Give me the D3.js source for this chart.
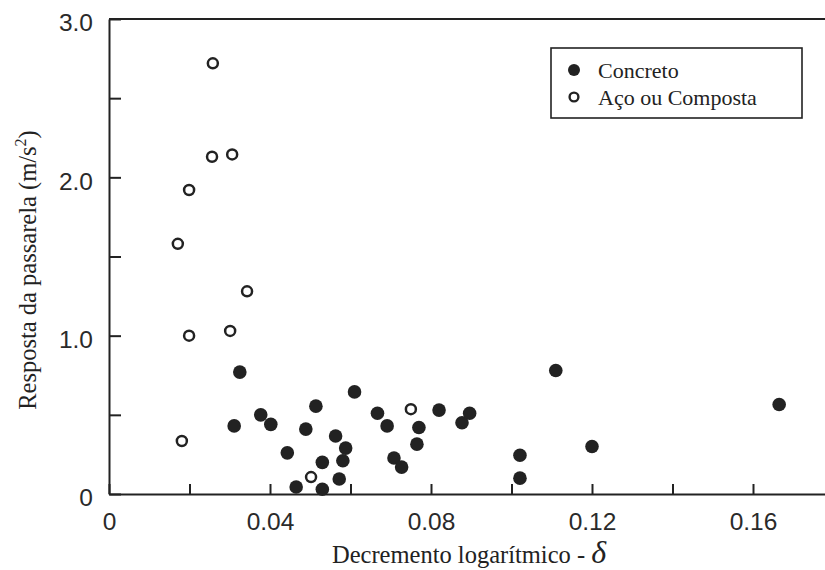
<!doctype html>
<meta charset='utf-8' />
<script src='https://cdn.jsdelivr.net/npm/d3@7'></script>
<style>
    body { margin: 0; background: #fff; }
    text { fill: #222; }
</style>
<svg></svg>
<script>
    var width = 825,
        height = 570

    var seriesNames = ['Concreto', 'Aço ou Composta']

    // Concreto (filled)
    var concretoX = [0.0325, 0.0311, 0.0377, 0.0402, 0.0443, 0.0489, 0.0514, 0.0465, 0.0530, 0.0530,
        0.0563, 0.0588, 0.0581, 0.0572, 0.0610, 0.0667, 0.0691, 0.0708, 0.0727, 0.0770,
        0.0765, 0.0820, 0.0877, 0.0896, 0.1021, 0.1021, 0.1110, 0.1200, 0.1665]
    var concretoY = [0.77, 0.43, 0.50, 0.44, 0.26, 0.41, 0.555, 0.044, 0.20, 0.03,
        0.366, 0.29, 0.21, 0.095, 0.645, 0.51, 0.43, 0.227, 0.17, 0.42,
        0.315, 0.53, 0.45, 0.51, 0.245, 0.10, 0.78, 0.30, 0.565]

    // Aço ou Composta (open)
    var acoX = [0.0258, 0.0256, 0.0306, 0.0199, 0.0171, 0.0343, 0.0199, 0.0301, 0.0181, 0.0502, 0.0750]
    var acoY = [2.72, 2.13, 2.145, 1.92, 1.58, 1.28, 1.00, 1.03, 0.335, 0.107, 0.536]

    var xTicks = [0, 0.02, 0.04, 0.06, 0.08, 0.10, 0.12, 0.14, 0.16, 0.18]
    var xLabels = { 0: '0', 0.04: '0.04', 0.08: '0.08', 0.12: '0.12', 0.16: '0.16' }
    var yTicks = [0, 0.5, 1, 1.5, 2, 2.5, 3]
    var yLabels = { 0: '0', 1: '1.0', 2: '2.0', 3: '3.0' }

    var plotLeft = 109, plotTop = 19, plotBottom = 494
    var serif = 'Liberation Serif, Times New Roman, serif'

    var svg = d3.select('svg')
        .attr('width', width)
        .attr('height', height)
        .style('font-family', 'Liberation Sans, Arial, sans-serif')

    var x = d3.scaleLinear().domain([0, 0.18]).range([plotLeft, plotLeft + 0.18 * 4025])
    var y = d3.scaleLinear().domain([0, 3]).range([plotBottom, plotTop])

    var xAxis = svg.append('g')
        .attr('transform', 'translate(0,' + plotBottom + ')')
        .call(d3.axisBottom(x)
            .tickValues(xTicks)
            .tickSizeInner(-10)
            .tickSizeOuter(0)
            .tickPadding(19)
            .tickFormat(d => xLabels[+d.toFixed(2)] || ''))

    var yAxis = svg.append('g')
        .attr('transform', 'translate(' + plotLeft + ',0)')
        .call(d3.axisLeft(y)
            .tickValues(yTicks)
            .tickSizeInner(-12)
            .tickSizeOuter(0)
            .tickPadding(16)
            .tickFormat(d => yLabels[d] || ''))

    svg.selectAll('.domain, .tick line')
        .attr('stroke', '#222')
        .attr('stroke-width', 2)
    svg.selectAll('.tick text')
        .attr('font-size', 24.5)
        .attr('font-family', 'Liberation Sans, Arial, sans-serif')
        .style('fill', '#2a2a2a')
    yAxis.selectAll('.tick text').attr('dy', '0.48em')

    // top frame line
    svg.append('line')
        .attr('x1', plotLeft).attr('x2', width)
        .attr('y1', plotTop).attr('y2', plotTop)
        .attr('stroke', '#222')
        .attr('stroke-width', 2)

    var concreto = concretoX.map((v, i) => ({ x: v, y: concretoY[i] }))
    var aco = acoX.map((v, i) => ({ x: v, y: acoY[i] }))

    svg.append('g').selectAll('circle')
        .data(concreto)
        .enter()
        .append('circle')
        .attr('cx', d => x(d.x))
        .attr('cy', d => y(d.y))
        .attr('r', 6.8)
        .style('fill', '#222')

    svg.append('g').selectAll('circle')
        .data(aco)
        .enter()
        .append('circle')
        .attr('cx', d => x(d.x))
        .attr('cy', d => y(d.y))
        .attr('r', 5)
        .style('fill', '#fff')
        .style('stroke', '#222')
        .style('stroke-width', 2.5)

    // legend
    var legend = svg.append('g')
    legend.append('rect')
        .attr('x', 551).attr('y', 48)
        .attr('width', 251).attr('height', 70)
        .style('fill', '#fff')
        .style('stroke', '#222')
        .style('stroke-width', 1.6)

    legend.selectAll('circle')
        .data(seriesNames)
        .enter()
        .append('circle')
        .attr('cx', 574)
        .attr('cy', (d, i) => 70 + i * 27)
        .attr('r', (d, i) => i ? 4.4 : 6)
        .style('fill', (d, i) => i ? '#fff' : '#222')
        .style('stroke', '#222')
        .style('stroke-width', (d, i) => i ? 2.4 : 0)

    legend.selectAll('text')
        .data(seriesNames)
        .enter()
        .append('text')
        .attr('x', 598)
        .attr('y', (d, i) => 78 + i * 27)
        .attr('font-family', serif)
        .attr('font-size', 22)
        .text(d => d)

    // axis titles
    var yTitle = svg.append('text')
        .attr('transform', 'translate(36,270) rotate(-90)')
        .attr('text-anchor', 'middle')
        .attr('font-family', serif)
        .attr('font-size', 24.5)
    yTitle.append('tspan').text('Resposta da passarela (m/s')
    yTitle.append('tspan').attr('dy', -10).attr('font-size', 16).text('2')
    yTitle.append('tspan').attr('dy', 10).text(')')

    var xTitle = svg.append('text')
        .attr('x', 332)
        .attr('y', 563)
        .attr('font-family', serif)
        .attr('font-size', 24.5)
    xTitle.append('tspan').text('Decremento logarítmico - ')
    xTitle.append('tspan').attr('font-style', 'italic').attr('font-size', 32).text('δ')
</script>
